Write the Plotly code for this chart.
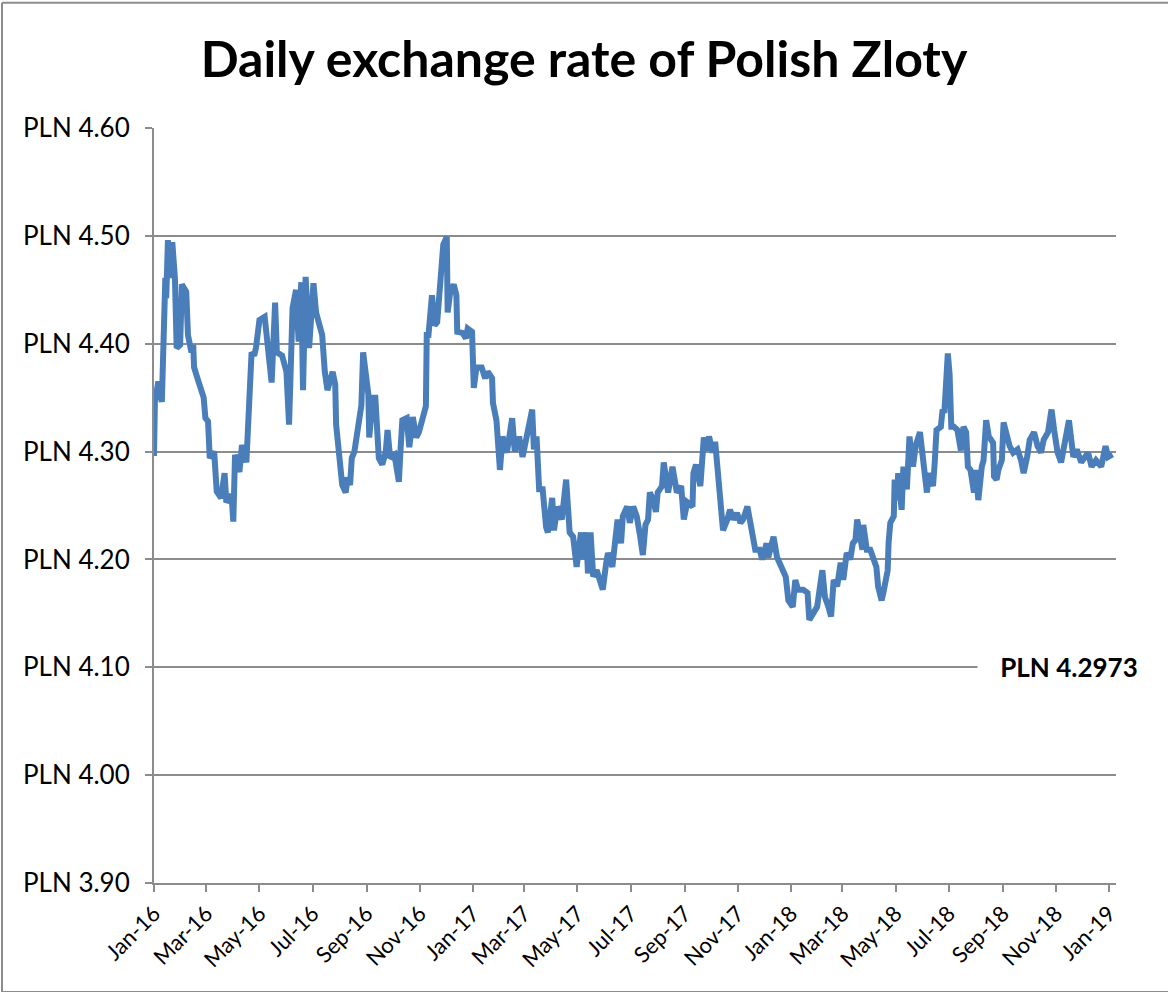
import pandas as pd
import plotly.graph_objects as go

# Day offsets from 2016-01-01 and exchange rates (PLN)
day_offsets = [
    0, 1, 5, 9, 13, 14, 16, 18, 21, 24, 26, 30, 32, 37, 39, 43, 45, 46, 51, 57,
    59, 62, 64, 69, 72, 77, 81, 83, 89, 91, 93, 98, 101, 106, 112, 115, 117, 121, 127, 130,
    135, 139, 141, 147, 152, 155, 159, 163, 166, 169, 171, 174, 178, 183, 186, 190, 193, 196, 198,
    199, 205, 208, 209, 213, 216, 220, 222, 225, 227, 230, 232, 236, 238, 240, 244, 246, 247, 251,
    254, 258, 262, 266, 268, 271, 276, 281, 283, 285, 290, 293, 297, 301, 304, 307, 312, 313, 315,
    319, 322, 325, 330, 332, 336, 337, 340, 344, 347, 348, 354, 358, 360, 365, 367, 370, 376, 380,
    383, 388, 389, 390, 393, 397, 400, 405, 411, 414, 419, 423, 429, 434, 436, 439, 442, 446, 450,
    452, 457, 459, 463, 468, 473, 477, 481, 485, 490, 492, 496, 498, 501, 504, 508, 512, 515, 519,
    521, 526, 529, 532, 536, 538, 543, 546, 550, 554, 558, 561, 564, 567, 569, 573, 576, 578, 583,
    585, 590, 595, 600, 605, 608, 612, 618, 619, 622, 627, 631, 635, 637, 641, 644, 646, 649, 652,
    653, 658, 661, 665, 669, 673, 676, 681, 685, 690, 695, 698, 703, 705, 711, 715, 720, 725, 728,
    733, 736, 739, 745, 750, 752, 757, 761, 767, 770, 774, 777, 780, 784, 788, 791, 795, 799, 802,
    805, 807, 811, 813, 814, 818, 822, 826, 829, 831, 835, 837, 842, 843, 845, 849, 850, 853, 854,
    858, 860, 864, 867, 871, 874, 879, 883, 887, 889, 894, 896, 898, 903, 905, 907, 909, 911, 913,
    915, 918, 922, 926, 929, 932, 934, 937, 941, 943, 946, 950, 952, 955, 958, 963, 964, 967, 969,
    973, 975, 980, 982, 986, 991, 995, 998, 1002, 1005, 1010, 1014, 1018, 1021, 1026, 1030, 1033,
    1037, 1041, 1044, 1050, 1055, 1059, 1064, 1068, 1072, 1076, 1081, 1087, 1092, 1095, 1100,
]

rates = [
    4.296, 4.346, 4.365, 4.346, 4.461, 4.442, 4.496, 4.461, 4.494, 4.461, 4.396, 4.399, 4.455, 4.448, 4.408, 4.392, 4.399, 4.378, 4.365, 4.350,
    4.331, 4.328, 4.294, 4.300, 4.263, 4.257, 4.280, 4.253, 4.260, 4.235, 4.297, 4.281, 4.306, 4.290, 4.392, 4.389, 4.396, 4.422, 4.425, 4.405,
    4.364, 4.438, 4.392, 4.389, 4.374, 4.325, 4.433, 4.450, 4.402, 4.457, 4.357, 4.462, 4.396, 4.456, 4.429, 4.417, 4.408, 4.374, 4.359,
    4.357, 4.374, 4.362, 4.325, 4.294, 4.269, 4.262, 4.276, 4.269, 4.294, 4.300, 4.313, 4.328, 4.343, 4.392, 4.371, 4.353, 4.313, 4.350,
    4.350, 4.294, 4.288, 4.300, 4.320, 4.294, 4.297, 4.272, 4.303, 4.329, 4.331, 4.304, 4.332, 4.313, 4.318, 4.328, 4.342, 4.408, 4.408,
    4.445, 4.417, 4.420, 4.470, 4.492, 4.499, 4.429, 4.448, 4.455, 4.445, 4.411, 4.410, 4.405, 4.414, 4.411, 4.359, 4.378, 4.378, 4.368,
    4.374, 4.368, 4.345, 4.339, 4.329, 4.283, 4.314, 4.299, 4.331, 4.300, 4.314, 4.295, 4.320, 4.339, 4.302, 4.314, 4.265, 4.265, 4.230,
    4.225, 4.257, 4.227, 4.249, 4.237, 4.274, 4.225, 4.221, 4.193, 4.225, 4.200, 4.225, 4.187, 4.225, 4.184, 4.190, 4.178, 4.172, 4.197,
    4.206, 4.193, 4.218, 4.237, 4.215, 4.240, 4.249, 4.234, 4.249, 4.240, 4.221, 4.204, 4.232, 4.237, 4.262, 4.255, 4.244, 4.262, 4.268,
    4.290, 4.262, 4.286, 4.262, 4.268, 4.237, 4.253, 4.249, 4.280, 4.288, 4.268, 4.313, 4.301, 4.314, 4.299, 4.309, 4.292, 4.268, 4.237,
    4.227, 4.237, 4.246, 4.237, 4.243, 4.234, 4.237, 4.249, 4.234, 4.209, 4.209, 4.200, 4.215, 4.202, 4.221, 4.202, 4.193, 4.184, 4.162,
    4.156, 4.181, 4.172, 4.172, 4.169, 4.144, 4.150, 4.156, 4.190, 4.165, 4.156, 4.147, 4.181, 4.175, 4.197, 4.181, 4.206, 4.200, 4.215,
    4.218, 4.237, 4.221, 4.209, 4.232, 4.209, 4.209, 4.197, 4.193, 4.175, 4.162, 4.169, 4.190, 4.215, 4.234, 4.240, 4.274, 4.255, 4.280,
    4.246, 4.286, 4.265, 4.314, 4.286, 4.305, 4.318, 4.283, 4.262, 4.280, 4.268, 4.290, 4.320, 4.323, 4.339, 4.336, 4.367, 4.391, 4.372,
    4.323, 4.323, 4.320, 4.301, 4.323, 4.318, 4.286, 4.283, 4.262, 4.283, 4.255, 4.286, 4.292, 4.329, 4.314, 4.308, 4.277, 4.274, 4.283,
    4.292, 4.327, 4.311, 4.305, 4.299, 4.302, 4.292, 4.280, 4.295, 4.311, 4.318, 4.305, 4.299, 4.311, 4.318, 4.339, 4.320,
    4.299, 4.290, 4.305, 4.329, 4.295, 4.302, 4.290, 4.295, 4.299, 4.286, 4.292, 4.286, 4.305, 4.295, 4.2973,
]

tick_dates = ["2016-01-01", "2016-03-01", "2016-05-01", "2016-07-01", "2016-09-01", "2016-11-01",
              "2017-01-01", "2017-03-01", "2017-05-01", "2017-07-01", "2017-09-01", "2017-11-01",
              "2018-01-01", "2018-03-01", "2018-05-01", "2018-07-01", "2018-09-01", "2018-11-01",
              "2019-01-01"]
tick_labels = ["Jan-16", "Mar-16", "May-16", "Jul-16", "Sep-16", "Nov-16",
               "Jan-17", "Mar-17", "May-17", "Jul-17", "Sep-17", "Nov-17",
               "Jan-18", "Mar-18", "May-18", "Jul-18", "Sep-18", "Nov-18", "Jan-19"]
y_ticks = [3.90, 4.00, 4.10, 4.20, 4.30, 4.40, 4.50, 4.60]
y_labels = ["PLN %.2f" % v for v in y_ticks]
last_label = "PLN 4.2973"

dates = pd.Timestamp("2016-01-01") + pd.to_timedelta(day_offsets, unit="D")

FONT = "Lato, 'Open Sans', sans-serif"
GRID = "#8c8c8c"

fig = go.Figure()
fig.add_trace(go.Scatter(
    x=dates, y=rates, mode="lines",
    line=dict(color="#4a7ebb", width=6),
    hoverinfo="x+y", showlegend=False,
))

# chart frame: left, top and bottom edges (right edge lies outside the image)
fx0, fx1, fy0, fy1 = -0.158, 1.10, -0.1445, 1.166
frame_line = dict(color="#8c8c8c", width=2)
frame = [
    dict(type="line", xref="paper", yref="paper", x0=fx0, x1=fx0, y0=fy0, y1=fy1, line=frame_line),
    dict(type="line", xref="paper", yref="paper", x0=fx0, x1=fx1, y0=fy1, y1=fy1, line=frame_line),
    dict(type="line", xref="paper", yref="paper", x0=fx0, x1=fx1, y0=fy0, y1=fy0, line=frame_line),
]

fig.update_layout(
    width=1168, height=992,
    margin=dict(l=154, r=52, t=128, b=109),
    paper_bgcolor="white", plot_bgcolor="white",
    font=dict(family=FONT, color="black"),
    title=dict(text="<b>Daily exchange rate of Polish Zloty</b>",
               x=0.5, xanchor="center", y=0.94, yanchor="middle",
               font=dict(family=FONT, size=50, color="black")),
    xaxis=dict(
        type="date",
        range=["2016-01-01", "2019-01-09"],
        tickvals=tick_dates, ticktext=tick_labels, tickangle=-45,
        tickfont=dict(size=22, family=FONT),
        showgrid=False, zeroline=False,
        showline=True, linecolor=GRID, linewidth=2,
        ticks="outside", ticklen=7, tickcolor=GRID, tickwidth=2,
    ),
    yaxis=dict(
        range=[3.90, 4.60],
        tickvals=y_ticks, ticktext=y_labels,
        tickfont=dict(size=26, family=FONT),
        ticklabelstandoff=10,
        showgrid=True, gridcolor=GRID, gridwidth=2,
        zeroline=False,
        showline=True, linecolor=GRID, linewidth=2,
        ticks="outside", ticklen=7, tickcolor=GRID, tickwidth=2,
    ),
    shapes=frame,
    annotations=[dict(
        text="<b>%s</b>" % last_label, xref="paper", yref="y",
        x=0.951, y=4.10, xanchor="center", yanchor="middle",
        showarrow=False, bgcolor="white", width=170, borderpad=6,
        font=dict(size=26, family=FONT, color="black"),
    )],
)

fig.write_html(
    "out.html", config={"displayModeBar": False},
    post_script="document.body.style.margin='0';"
                "document.documentElement.style.overflow='hidden';"
                "document.body.style.overflow='hidden';",
)
